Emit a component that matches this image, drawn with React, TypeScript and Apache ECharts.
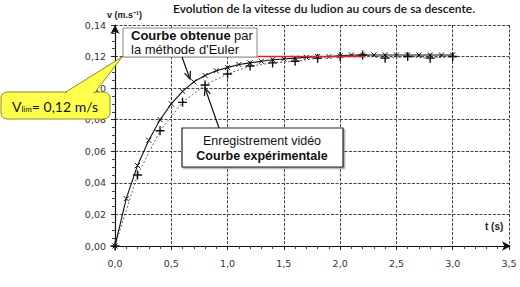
import React, { useEffect, useRef } from "react";
import * as echarts from "echarts";

const tEuler = [0, 0.1, 0.2, 0.3, 0.4, 0.5, 0.6, 0.7, 0.8, 0.9, 1.0, 1.1, 1.2, 1.3, 1.4, 1.5, 1.6, 1.7, 1.8, 1.9, 2.0, 2.1, 2.2, 2.3, 2.4, 2.5, 2.6, 2.7, 2.8, 2.9, 3.0];
const vEuler = [0, 0.030, 0.051, 0.067, 0.080, 0.090, 0.098, 0.104, 0.108, 0.111, 0.113, 0.115, 0.116, 0.117, 0.118, 0.1185, 0.119, 0.1195, 0.120, 0.120, 0.1205, 0.121, 0.121, 0.121, 0.121, 0.121, 0.121, 0.121, 0.121, 0.121, 0.121];

const tExp = [0, 0.2, 0.4, 0.6, 0.8, 1.0, 1.2, 1.4, 1.6, 1.8, 2.0, 2.2, 2.4, 2.6, 2.8, 3.0];
const vExp = [0, 0.045, 0.073, 0.091, 0.102, 0.109, 0.114, 0.116, 0.117, 0.119, 0.120, 0.121, 0.119, 0.120, 0.119, 0.120];

const tLimit = [0.06, 2.22];
const vLimit = [0.12, 0.12];

const title = "Evolution de la vitesse du ludion au cours de sa descente.";
const yName = "v (m.s⁻¹)";
const xName = "t (s)";

function arrow(x1: number, y1: number, x2: number, y2: number) {
  const len = 8;
  const ang = 0.4;
  const a = Math.atan2(y2 - y1, x2 - x1);
  const p1 = [x2 - len * Math.cos(a - ang), y2 - len * Math.sin(a - ang)];
  const p2 = [x2 - len * Math.cos(a + ang), y2 - len * Math.sin(a + ang)];
  return [
    { type: "line", z: 100, shape: { x1, y1, x2, y2 }, style: { stroke: "#111", lineWidth: 1.2 } },
    { type: "polyline", z: 100, shape: { points: [p1, [x2, y2], p2] }, style: { stroke: "#111", lineWidth: 1.2, fill: null } },
  ];
}

export default function App() {
  const ref = useRef<HTMLDivElement>(null);
  useEffect(() => {
    const chart = echarts.init(ref.current!, null, { renderer: "svg" });
    const fmt2 = (v: number) => v.toFixed(2).replace(".", ",");
    const fmt1 = (v: number) => v.toFixed(1).replace(".", ",");
    const sans = "Liberation Sans, Arial, sans-serif";
    chart.setOption({
      animation: false,
      backgroundColor: "#fff",
      grid: { left: 115, right: 11, top: 25, bottom: 41 },
      xAxis: {
        type: "value",
        min: 0,
        max: 3.5,
        interval: 0.5,
        axisLine: { show: true, symbol: ["none", "arrow"], symbolSize: [7, 9], symbolOffset: [0, 2], lineStyle: { color: "#111", width: 1.2 } },
        axisTick: { show: true, length: 4, lineStyle: { color: "#222" } },
        minorTick: { show: true, splitNumber: 5, length: 3, lineStyle: { color: "#444" } },
        axisLabel: { formatter: fmt1, color: "#333", fontFamily: "DejaVu Sans", fontSize: 9.5, margin: 12 },
        splitLine: { show: true, lineStyle: { color: "#444", type: [3, 1.5], width: 1 } },
      },
      yAxis: {
        type: "value",
        min: 0,
        max: 0.14,
        interval: 0.02,
        axisLine: { show: true, symbol: ["none", "arrow"], symbolSize: [7, 9], lineStyle: { color: "#111", width: 1.2 } },
        axisTick: { show: true, length: 4, lineStyle: { color: "#222" } },
        minorTick: { show: true, splitNumber: 4, length: 3, lineStyle: { color: "#444" } },
        axisLabel: { formatter: fmt2, color: "#333", fontFamily: "DejaVu Sans", fontSize: 9.5, margin: 9 },
        splitLine: { show: true, lineStyle: { color: "#444", type: [3, 1.5], width: 1 } },
      },
      series: [
        {
          type: "line",
          name: "exp",
          data: tExp.map((t, i) => [t, vExp[i]]),
          symbol: "path://M5,0L5,10M0,5L10,5",
          symbolSize: 9,
          itemStyle: { color: "#111", borderColor: "#111", borderWidth: 1.4 },
          lineStyle: { color: "#666", width: 1, type: [2, 2] },
          z: 3,
        },
        {
          type: "line",
          name: "euler",
          data: tEuler.map((t, i) => [t, vEuler[i]]),
          symbol: "path://M0,0L10,10M10,0L0,10",
          symbolSize: 5,
          itemStyle: { color: "#111", borderColor: "#111", borderWidth: 1 },
          lineStyle: { color: "#111", width: 1.1 },
          z: 4,
        },
        {
          type: "line",
          name: "limit",
          data: tLimit.map((t, i) => [t, vLimit[i]]),
          showSymbol: false,
          symbol: "none",
          lineStyle: { color: "#d8232a", width: 1.6 },
          z: 5,
        },
      ],
      graphic: [
        {
          type: "text",
          z: 100,
          style: { x: 324, y: 8, text: title, align: "center", verticalAlign: "middle", font: "600 12px Lato, sans-serif", fill: "#111" },
        },
        {
          type: "text",
          z: 100,
          style: { x: 107, y: 15, text: yName, align: "left", verticalAlign: "middle", font: "bold 9px " + sans, fill: "#222" },
        },
        {
          type: "text",
          z: 100,
          style: { x: 485, y: 226, text: xName, align: "left", verticalAlign: "middle", font: "bold 10px " + sans, fill: "#222" },
        },
        // Euler box
        {
          type: "rect",
          z: 100,
          shape: { x: 123, y: 28, width: 134, height: 29 },
          style: { fill: "#fff", stroke: "#8a8a8a", lineWidth: 1 },
        },
        {
          type: "text",
          z: 101,
          style: {
            x: 131,
            y: 35,
            text: "{b|Courbe obtenue} {r|par}",
            verticalAlign: "middle",
            rich: {
              b: { font: "bold 13px " + sans, fill: "#111" },
              r: { font: "13px " + sans, fill: "#111" },
            },
          },
        },
        {
          type: "text",
          z: 101,
          style: { x: 131, y: 49, text: "la méthode d'Euler", verticalAlign: "middle", font: "13px " + sans, fill: "#111" },
        },
        // Vlim callout
        {
          type: "rect",
          z: 100,
          shape: { x: 1, y: 92, width: 109, height: 27, r: 6 },
          style: { fill: "#ffff4d", stroke: "#8c8c1e", lineWidth: 1 },
        },
        {
          type: "polygon",
          z: 101,
          shape: { points: [[65, 92.5], [122, 57], [95, 92.5]] },
          style: { fill: "#ffff4d", stroke: "#8c8c1e", lineWidth: 1 },
        },
        {
          type: "polygon",
          z: 102,
          shape: { points: [[66.5, 92], [93.5, 92], [93, 94], [67, 94]] },
          style: { fill: "#ffff4d" },
        },
        {
          type: "text",
          z: 103,
          style: {
            x: 12,
            y: 106,
            text: "{v|V}{s|lim}{v|= 0,12 m/s}",
            verticalAlign: "middle",
            rich: {
              v: { font: "14px Lato, sans-serif", fill: "#111" },
              s: { font: "8px Lato, sans-serif", fill: "#111", verticalAlign: "bottom", padding: [6, 0, 0, 0] },
            },
          },
        },
        // Experimental box
        {
          type: "rect",
          z: 100,
          shape: { x: 182, y: 128, width: 161, height: 39 },
          style: { fill: "#fff", stroke: "#222", lineWidth: 1.2, shadowColor: "rgba(0,0,0,0.35)", shadowOffsetX: 1.5, shadowOffsetY: 1.5, shadowBlur: 1 },
        },
        {
          type: "text",
          z: 101,
          style: { x: 262, y: 141, text: "Enregistrement vidéo", align: "center", verticalAlign: "middle", font: "12.5px " + sans, fill: "#111" },
        },
        {
          type: "text",
          z: 101,
          style: { x: 262, y: 156, text: "Courbe expérimentale", align: "center", verticalAlign: "middle", font: "bold 12.5px " + sans, fill: "#111" },
        },
        ...arrow(182, 57, 190, 79),
        ...arrow(219, 128, 205, 88),
      ],
    });
    return () => chart.dispose();
  }, []);
  return <div ref={ref} style={{ position: "fixed", left: 0, top: 0, width: 520, height: 287, background: "#fff" }} />;
}
